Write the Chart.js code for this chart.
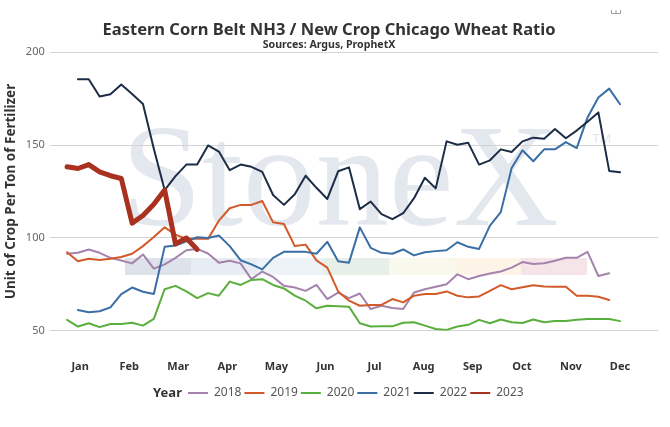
<!DOCTYPE html>
<html>
<head>
<meta charset="utf-8">
<script src="https://cdn.jsdelivr.net/npm/chart.js@4.4.0/dist/chart.umd.min.js"></script>
<style>
  html, body { margin: 0; padding: 0; background: #fff; }
  #wrap { width: 670px; height: 427px; }
</style>
</head>
<body>
<div id="wrap"><canvas id="chart1"></canvas></div>
<script>
// week of year on the x axis
const weeks = [1, 2, 3, 4, 5, 6, 7, 8, 9, 10, 11, 12, 13, 14, 15, 16, 17, 18, 19, 20, 21, 22, 23, 24, 25, 26,
  27, 28, 29, 30, 31, 32, 33, 34, 35, 36, 37, 38, 39, 40, 41, 42, 43, 44, 45, 46, 47, 48, 49, 50, 51, 52];

const monthLabels = ['Jan', 'Feb', 'Mar', 'Apr', 'May', 'Jun', 'Jul', 'Aug', 'Sep', 'Oct', 'Nov', 'Dec'];
const yearLabels = ['2018', '2019', '2020', '2021', '2022', '2023'];

const y2018 = [91.5, 92, 93.8, 92, 89.3, 87.9, 86.3, 91.1, 83.5, 85.8,
  89.3, 93.4, 94.1, 91.6, 86.7, 87.7, 86.3, 77.8, 81.9, 79,
  74.2, 73.3, 71.5, 74.7, 67.1, 70.6, 67.6, 70.1, 61.7, 63.5,
  62.3, 61.7, 70.6, 72.4, 73.7, 75.1, 80.4, 77.8, 79.5, 80.8,
  81.9, 84, 87, 86, 86.4, 87.7, 89.3, 89.3, 92.5, 79.5, 81, null];

const y2019 = [92.3, 87.5, 88.8, 88.1, 88.8, 89.7, 91.5, 95.6, 100.5, 105.7,
  101.8, 99.5, 99.5, 99.5, 109.3, 116, 117.8, 117.8, 119.9, 108.4,
  107.5, 95.6, 96.4, 87.9, 84, 71.2, 66.2, 63.5, 63.9, 63.9,
  67.1, 65.3, 68.9, 69.8, 69.8, 71.2, 68.9, 68, 68.5, 71.5,
  74.6, 72.4, 73.5, 74.5, 73.8, 73.7, 73.7, 68.9, 68.9, 68.3, 66.6, null];

const y2020 = [55.9, 52.3, 54.1, 52, 53.7, 53.7, 54.3, 52.8, 56.4, 72.4,
  74.2, 71.2, 67.6, 70.3, 68.9, 76.5, 74.7, 77.4, 77.8, 74.7,
  72.8, 68.9, 66.2, 62.1, 63.5, 63.2, 63, 54.1, 52.3, 52.5,
  52.4, 54.3, 54.6, 52.8, 51, 50.5, 52.3, 53.2, 55.9, 54.1,
  56.1, 54.6, 54.2, 56.1, 54.6, 55.3, 55.3, 55.9, 56.4, 56.4, 56.4, 55.2];

const y2021 = [null, 61.2, 60, 60.5, 62.6, 69.8, 73.3, 71, 69.8, 95.2, 95.9,
  98.2, 100.4, 100, 101.3, 95.6, 88, 85.8, 83.1, 89.3, 92.5,
  92.5, 92.5, 91.5, 97.9, 87.5, 86.7, 105.7, 94.7, 92, 91.5,
  93.8, 90.6, 92.3, 92.9, 93.4, 97.7, 95.2, 94.1, 106.6, 113.9,
  137.7, 147.2, 141.3, 147.7, 147.7, 151.6, 148.4, 164.9, 175.6, 180.4, 172];

const y2022 = [null, 185.4, 185.4, 176.2, 177.4, 182.6, 177.5, 172.1, 148, 125.8, 133.3,
  139.5, 139.5, 149.8, 146.5, 136.5, 139.5, 138.3, 135.6, 123.1, 117.8,
  123.5, 133.5, 127, 121, 135.9, 138, 115.5, 119.6, 112.8, 110.1,
  113.3, 121.4, 132.4, 126.7, 152, 150.2, 151.2, 139.5, 141.8, 147.7,
  146.3, 152, 154, 153.4, 158.7, 153.7, 157.8, 162.6, 167.6, 136.1, 135.4];

const y2023 = [138.3, 137.4, 139.5, 135.6, 133.5, 132, 108, 112.1, 118.1, 125.8,
  96.8, 100, 93.8];

const yTicks = [50, 100, 150, 200];

const colors = ['#a583ad', '#d35a2a', '#5aaf3c', '#3a6ea5', '#1c2d47', '#a8321f'];
const widths = [2, 2, 2, 2, 2, 5];
const series = [y2018, y2019, y2020, y2021, y2022, y2023];

const FONT = '"Noto Sans", sans-serif';

// StoneX watermark behind the plot, plus the little menu glyph top right
const stonexMark = {
  id: 'stonexMark',
  beforeDraw(chart) {
    const ctx = chart.ctx;
    ctx.save();
    const bands = ['#dde2eb', '#e8ecf3', '#eef3f8', '#e6efe8', '#f8f9ec', '#fdf3e6', '#f5e5e9'];
    bands.forEach((c, i) => {
      ctx.fillStyle = c;
      ctx.fillRect(125 + i * 66, 258, 66, 17);
    });
    ctx.fillStyle = '#e3e7ee';
    ctx.font = '146px "Liberation Serif"';
    ctx.textBaseline = 'alphabetic';
    ctx.fillText('StoneX', 121, 225);
    ctx.font = '13px "Liberation Sans"';
    ctx.fillText('TM', 592, 143);
    ctx.strokeStyle = '#999';
    ctx.lineWidth = 1;
    ctx.beginPath();
    ctx.moveTo(611.5, 10);
    ctx.lineTo(611.5, 13.5);
    ctx.lineTo(620.5, 13.5);
    ctx.lineTo(620.5, 10);
    ctx.moveTo(616, 10);
    ctx.lineTo(616, 13);
    ctx.stroke();
    ctx.restore();
  }
};

// bold "Year" in front of the legend items
const yearLabel = {
  id: 'yearLabel',
  afterDraw(chart) {
    const boxes = chart.legend.legendHitBoxes;
    if (!boxes || boxes.length < 2) return;
    const ctx = chart.ctx;
    ctx.save();
    ctx.font = 'bold 13px ' + FONT;
    ctx.fillStyle = '#333';
    ctx.textAlign = 'right';
    ctx.textBaseline = 'middle';
    ctx.fillText('Year', boxes[1].left - 6, boxes[1].top + boxes[1].height / 2);
    ctx.restore();
  }
};

const chart1 = document.getElementById('chart1');

new Chart(chart1, {
  type: 'line',
  data: {
    datasets: series.map((s, i) => ({
      label: yearLabels[i],
      data: s.map((v, j) => ({ x: weeks[j], y: v })),
      borderColor: colors[i],
      backgroundColor: colors[i],
      borderWidth: widths[i],
      borderJoinStyle: 'round',
      borderCapStyle: 'round',
      pointRadius: 0,
      tension: 0,
      order: 5 - i
    }))
  },
  options: {
    responsive: true,
    maintainAspectRatio: false,
    animation: false,
    layout: { padding: { left: 0, right: 12, top: 0, bottom: 18 } },
    scales: {
      x: {
        type: 'linear',
        min: -0.6,
        max: 55.5,
        grid: { display: false },
        border: { display: false },
        afterBuildTicks: (scale) => {
          scale.ticks = monthLabels.map((m, i) => ({ value: 2.2 + i * 4.527 }));
        },
        afterFit: (scale) => { scale.height -= 10; },
        ticks: {
          autoSkip: false,
          maxRotation: 0,
          padding: 21,
          color: '#333',
          font: { family: FONT, size: 11, weight: 'bold' },
          callback: (v, i) => monthLabels[i]
        }
      },
      y: {
        min: 50,
        max: 200,
        afterBuildTicks: (scale) => {
          scale.ticks = yTicks.map(v => ({ value: v }));
        },
        grid: { color: '#d3d3d3', drawTicks: false },
        border: { display: false },
        ticks: {
          padding: 5,
          color: '#666',
          font: { family: FONT, size: 11 }
        },
        title: {
          display: true,
          text: 'Unit of Crop Per Ton of Fertilizer',
          color: '#333',
          font: { family: FONT, size: 13.5, weight: 'bold', lineHeight: 1.1 },
          padding: { top: 4, bottom: 2 }
        }
      }
    },
    plugins: {
      tooltip: { enabled: false },
      title: {
        display: true,
        text: 'Eastern Corn Belt NH3 / New Crop Chicago Wheat Ratio',
        color: '#333',
        font: { family: FONT, size: 16.5, weight: 'bold', lineHeight: 1 },
        padding: { top: 22, bottom: 0 }
      },
      subtitle: {
        display: true,
        text: 'Sources: Argus, ProphetX',
        color: '#333',
        font: { family: FONT, size: 10.6, weight: 'bold' },
        padding: { top: 0, bottom: 1 }
      },
      legend: {
        position: 'bottom',
        labels: {
          usePointStyle: true,
          pointStyle: 'line',
          pointStyleWidth: 20,
          padding: 3,
          color: '#555',
          font: { family: FONT, size: 12 },
          generateLabels: (chart) => {
            const items = Chart.defaults.plugins.legend.labels.generateLabels(chart)
              .sort((a, b) => a.datasetIndex - b.datasetIndex)
              .map(it => ({ ...it, lineWidth: 2, pointStyle: 'line' }));
            items.unshift({
              text: 'Year', fillStyle: 'rgba(0,0,0,0)', strokeStyle: 'rgba(0,0,0,0)',
              fontColor: 'rgba(0,0,0,0)', lineWidth: 0, hidden: false, pointStyle: 'line', datasetIndex: -1
            });
            return items;
          }
        }
      }
    }
  },
  plugins: [stonexMark, yearLabel]
});
</script>
</body>
</html>
